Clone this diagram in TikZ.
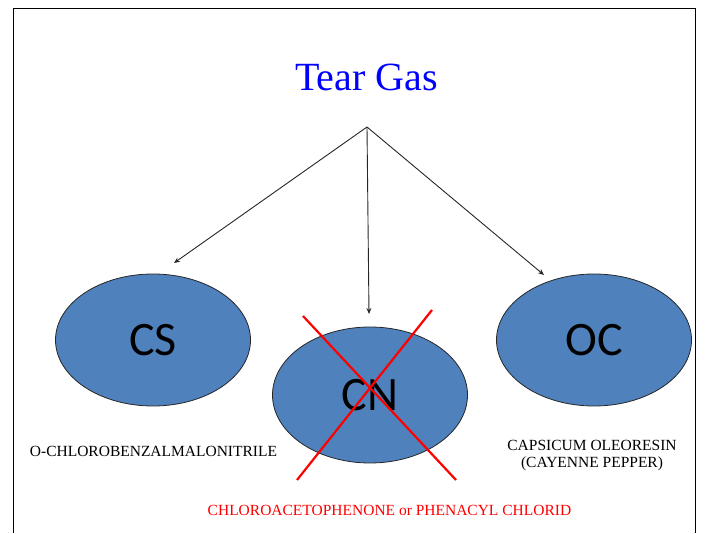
\documentclass[tikz,border=0pt]{standalone}
\usepackage{fontspec}
\setmainfont{Liberation Serif}
\newfontfamily\calibri{Carlito}
\usetikzlibrary{arrows.meta,shapes.geometric}
\definecolor{gasblue}{RGB}{79,129,189}
\begin{document}
\begin{tikzpicture}
        [x=1pt, y=1pt,
        gas/.style={ellipse, draw=black!85, line width=0.8pt, fill=gasblue, inner sep=0pt,
            minimum width=195pt, minimum height=132pt, font=\calibri\fontsize{48}{48}\selectfont},
        link/.style={black!85, line width=0.9pt, -{Stealth[length=6pt,width=5pt]}},
        cross/.style={red, line width=2.2pt},
        label/.style={font=\fontsize{15.5}{17}\selectfont, align=center}]

        \useasboundingbox (0,0) rectangle (707,533);
        \draw[line width=0.8pt] (13,0) -- (13,525) -- (695,525) -- (695,0);

        \node[anchor=base, text=blue, font=\fontsize{40}{40}\selectfont] (title) at (366.5,442) {Tear Gas};
        \coordinate (top) at (367,406);

        \node[gas] (cs) at (153,193) {CS};
        \node[gas, minimum height=136pt] (cn) at (370,138) {CN};
        \node[gas] (oc) at (594,193) {OC};

        % arrow tips
        \coordinate (cstip) at (174,270);
        \coordinate (cntip) at (369,219);
        \coordinate (octip) at (544,258);

        \draw[link] (top) -- (cstip);
        \draw[link] (top) -- (cntip);
        \draw[link] (top) -- (octip);

        % red cross over CN
        \coordinate (x1) at (303,217);
        \coordinate (x2) at (456,53);
        \coordinate (x3) at (432,223);
        \coordinate (x4) at (297,53);
        \draw[cross] (x1) -- (x2);
        \draw[cross] (x3) -- (x4);

        % names below the ellipses
        \node[label] (csname) at (153.5,82) {O-CHLOROBENZALMALONITRILE};
        \node[label] (ocname) at (592,77) {CAPSICUM OLEORESIN\\(CAYENNE PEPPER)};
        \node[label, text=red] (cnname) at (389.5,23) {CHLOROACETOPHENONE or PHENACYL CHLORID};

    \end{tikzpicture}
\end{document}
